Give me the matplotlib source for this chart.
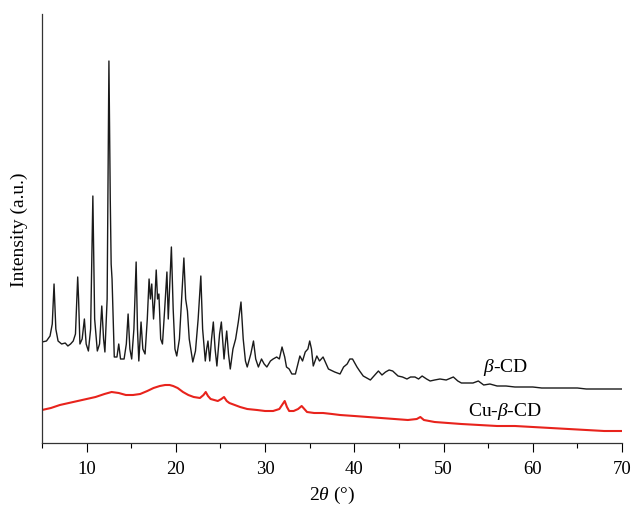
import matplotlib
matplotlib.use("Agg")
import matplotlib.pyplot as plt
from matplotlib.ticker import MultipleLocator

# === Données (2theta, intensité en u.a.) ===
tt_cd = [5.0, 5.5, 5.9, 6.15, 6.35, 6.55, 6.8, 7.2, 7.6, 7.9, 8.2, 8.5, 8.75, 8.9, 9.0,
         9.1, 9.25, 9.5, 9.75, 9.95, 10.2, 10.45, 10.7, 10.9, 11.2, 11.45, 11.7, 11.9,
         12.05, 12.3, 12.5, 12.65, 12.75, 12.85, 13.1, 13.4, 13.6, 13.8, 14.2, 14.45,
         14.65, 14.85, 15.05, 15.3, 15.55, 15.7, 15.85, 16.1, 16.3, 16.55, 16.8, 17.0,
         17.15, 17.3, 17.5, 17.65, 17.8, 17.95, 18.1, 18.3, 18.5, 18.75, 19.0, 19.15,
         19.3, 19.5, 19.7, 19.9, 20.1, 20.4, 20.65, 20.9, 21.1, 21.3, 21.5, 21.9, 22.2,
         22.5, 22.8, 23.0, 23.3, 23.45, 23.6, 23.8, 24.0, 24.2, 24.4, 24.6, 24.9, 25.1,
         25.4, 25.55, 25.7, 25.9, 26.1, 26.4, 26.7, 27.0, 27.3, 27.55, 27.8, 28.0, 28.4,
         28.7, 28.95, 29.25, 29.6, 29.9, 30.2, 30.6, 30.9, 31.3, 31.6, 31.9, 32.2, 32.4,
         32.7, 33.0, 33.4, 33.9, 34.2, 34.5, 34.8, 35.0, 35.2, 35.4, 35.8, 36.1, 36.5,
         37.1, 37.8, 38.4, 38.8, 39.2, 39.5, 39.8, 40.3, 40.6, 41.0, 41.8, 42.2, 42.7,
         43.1, 43.5, 43.9, 44.3, 44.9, 45.4, 45.9, 46.3, 46.8, 47.2, 47.6, 48.1, 48.5,
         49.0, 49.6, 50.3, 51.1, 51.6, 52.0, 52.7, 53.3, 53.9, 54.5, 55.2, 56.0, 57.0,
         58.0, 59.0, 60.0, 61.0, 62.0, 63.0, 64.0, 65.0, 66.0, 67.0, 68.0, 69.0, 70.0]
y_cd_px = [343, 342, 337, 325, 285, 330, 342, 345, 344, 347, 345, 342, 335, 300, 278,
           300, 345, 340, 320, 345, 352, 330, 197, 320, 352, 345, 307, 340,
           353, 300, 62, 200, 265, 280, 358, 358, 345, 360, 360, 345,
           315, 350, 360, 330, 263, 330, 362, 323, 350, 355, 320, 280,
           300, 285, 320, 300, 271, 300, 295, 340, 345, 310, 273, 320,
           290, 248, 310, 350, 357, 340, 300, 259, 300, 312, 340, 363, 352,
           320, 277, 330, 362, 350, 342, 362, 340, 323, 350, 367, 335, 323,
           360, 345, 332, 355, 370, 350, 340, 323, 303, 340, 362, 368, 355,
           342, 360, 368, 360, 365, 368, 362, 360, 358, 360, 348, 358, 368,
           370, 375, 375, 357, 362, 353, 350, 342, 350, 367, 357, 362, 358,
           370, 373, 375, 368, 365, 360, 360, 368, 372, 377, 381, 377, 372,
           376, 373, 371, 372, 377, 378, 380, 378, 378, 380, 377, 380, 382,
           381, 380, 381, 378, 382, 384, 384, 384, 382, 386, 385, 387, 387,
           388, 388, 388, 389, 389, 389, 389, 389, 390, 390, 390, 390, 390]

tt_cu = [5.0, 6.0, 7.0, 8.0, 9.0, 10.0, 11.0, 12.0, 12.8, 13.6, 14.4, 15.2, 16.0, 16.8,
         17.5, 18.2, 18.8, 19.3, 19.7, 20.2, 20.8, 21.4, 22.0, 22.7, 23.1, 23.35, 23.6,
         23.9, 24.3, 24.7, 25.1, 25.4, 25.7, 26.0, 26.6, 27.2, 28.0, 29.1, 30.0, 30.9,
         31.6, 31.9, 32.2, 32.45, 32.7, 33.2, 33.7, 34.1, 34.4, 34.7, 35.5, 36.5, 37.5,
         38.4, 40.0, 41.5, 43.0, 44.5, 46.0, 47.0, 47.4, 47.8, 49.0, 50.5, 52.0, 54.0,
         56.0, 58.0, 60.0, 62.0, 64.0, 66.0, 68.0, 70.0]
y_cu_px = [411, 409, 406, 404, 402, 400, 398, 395, 393, 394, 396, 396, 395, 392,
           389, 387, 386, 386, 387, 389, 393, 396, 398, 399, 396, 393, 397,
           400, 401, 402, 400, 398, 402, 404, 406, 408, 410, 411, 412, 412,
           410, 406, 402, 408, 412, 412, 410, 407, 410, 413, 414, 414, 415,
           416, 417, 418, 419, 420, 421, 420, 418, 421, 423, 424, 425, 426,
           427, 427, 428, 429, 430, 431, 432, 432]

# intensité = hauteur au-dessus de l'axe x
i_cd = [444 - v for v in y_cd_px]
i_cu = [444 - v for v in y_cu_px]

# === Style ===
plt.rcParams['font.family'] = ['Liberation Serif', 'DejaVu Serif']
plt.rcParams['mathtext.fontset'] = 'custom'
plt.rcParams['mathtext.rm'] = 'Liberation Serif'
plt.rcParams['mathtext.it'] = 'Liberation Serif:italic'

fig = plt.figure(figsize=(6.34, 5.1), dpi=100)
ax = fig.add_axes([42 / 634, 66 / 510, 580 / 634, 429 / 510])

ax.plot(tt_cd, i_cd, color='#1a1a1a', lw=1.0)
ax.plot(tt_cu, i_cu, color='#e8231c', lw=1.5)

ax.text(56.9, 76, r'$\it{\beta}$-CD', fontsize=14, ha='center', va='center')
ax.text(56.9, 32, r'Cu-$\it{\beta}$-CD', fontsize=14, ha='center', va='center')

ax.set_xlim(5, 70)
ax.set_ylim(0, 429)
ax.xaxis.set_major_locator(MultipleLocator(10))
ax.xaxis.set_minor_locator(MultipleLocator(5))
ax.set_yticks([])
ax.tick_params(axis='x', which='major', length=6.5, width=0.8, labelsize=13.5, pad=6)
ax.tick_params(axis='x', which='minor', length=3.5, width=0.8)
for s in ['top', 'right']:
    ax.spines[s].set_visible(False)
for s in ['left', 'bottom']:
    ax.spines[s].set_linewidth(0.9)
    ax.spines[s].set_color('#333333')

ax.set_xlabel(r'2$\it{\theta}$ (°)', fontsize=14, labelpad=5)
ax.set_ylabel('Intensity (a.u.)', fontsize=14, labelpad=10)

fig.savefig('out.png', dpi=100)
plt.close(fig)
